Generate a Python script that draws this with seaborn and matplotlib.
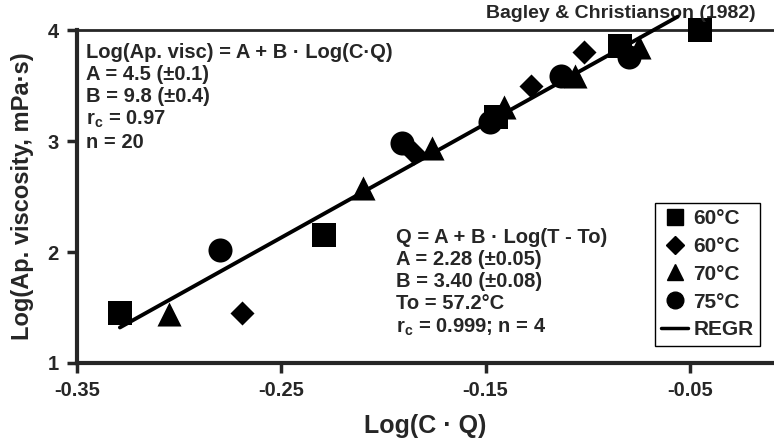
import matplotlib
matplotlib.use("Agg")
import matplotlib.pyplot as plt
import seaborn as sns
import pandas as pd
from matplotlib.lines import Line2D

sns.set_style("ticks")
plt.rcParams['font.family'] = ['Liberation Sans', 'DejaVu Sans']
plt.rcParams['font.weight'] = 'bold'
plt.rcParams['mathtext.fontset'] = 'custom'
plt.rcParams['mathtext.rm'] = 'Liberation Sans:bold'
plt.rcParams['mathtext.it'] = 'Liberation Sans:bold'
plt.rcParams['mathtext.bf'] = 'Liberation Sans:bold'
plt.rcParams['mathtext.default'] = 'rm'

# Data
sq_x = [-0.329, -0.229, -0.145, -0.084, -0.045]
sq_y = [1.45, 2.15, 3.22, 3.86, 4.00]
di_x = [-0.269, -0.185, -0.128, -0.102]
di_y = [1.45, 2.89, 3.50, 3.80]
tr_x = [-0.305, -0.210, -0.176, -0.141, -0.106, -0.075]
tr_y = [1.44, 2.58, 2.94, 3.31, 3.59, 3.85]
ci_x = [-0.280, -0.191, -0.148, -0.113, -0.080]
ci_y = [2.02, 2.98, 3.17, 3.59, 3.76]
reg_x = [-0.329, -0.056]
reg_y = [1.32, 4.12]

series_labels = ["60°C", "60°C", "70°C", "75°C"]
x_ticks = [-0.35, -0.25, -0.15, -0.05]
y_ticks = [1, 2, 3, 4]

fig = plt.figure(figsize=(7.74, 4.48), dpi=100)
ax = fig.add_axes([77/774, 1 - 363/448, 1 - 77/774, (363 - 30)/448])

groups = [
    (sq_x, sq_y, 's', 280),
    (di_x, di_y, 'D', 150),
    (tr_x, tr_y, '^', 300),
    (ci_x, ci_y, 'o', 300),
]
for (gx, gy, m, s), lab in zip(groups, series_labels):
    df = pd.DataFrame({'x': gx, 'y': gy})
    sns.scatterplot(data=df, x='x', y='y', marker=m, s=s, color='black',
                    edgecolor='black', linewidth=0, ax=ax, legend=False,
                    zorder=3, clip_on=False)

reg_df = pd.DataFrame({'x': reg_x, 'y': reg_y})
sns.lineplot(data=reg_df, x='x', y='y', color='black', linewidth=2.8, ax=ax,
             legend=False, zorder=4)
for l in ax.lines:
    l.set_clip_on(False)

ax.set_xlim(-0.35, -0.35 + (774 - 77) / 2043)
ax.set_ylim(1, 4)
ax.set_xticks(x_ticks)
ax.set_xticklabels([f"{v:.2f}" for v in x_ticks])
ax.set_yticks(y_ticks)
ax.set_yticklabels([str(v) for v in y_ticks])
ax.tick_params(axis='both', direction='out', length=7, width=2.5,
               labelsize=14.5, pad=6)
for lab in ax.get_xticklabels() + ax.get_yticklabels():
    lab.set_fontweight('bold')

ax.spines['left'].set_linewidth(3)
ax.spines['bottom'].set_linewidth(3)
ax.spines['top'].set_visible(True)
ax.spines['top'].set_linewidth(2)
ax.spines['right'].set_visible(False)

ax.set_xlabel("Log(C · Q)", fontsize=18, fontweight='bold', labelpad=10)
ax.set_ylabel("Log(Ap. viscosity, mPa·s)", fontsize=17, fontweight='bold', labelpad=10)

txt1 = ("Log(Ap. visc) = A + B · Log(C·Q)\n"
        "A = 4.5 (±0.1)\n"
        "B = 9.8 (±0.4)\n"
        "r$_{c}$ = 0.97\n"
        "n = 20")
ax.text(86/774, 1 - 43/448, txt1, transform=fig.transFigure, fontsize=14.5,
        fontweight='bold', va='top', ha='left', linespacing=1.2)

txt2 = ("Q = A + B · Log(T - To)\n"
        "A = 2.28 (±0.05)\n"
        "B = 3.40 (±0.08)\n"
        "To = 57.2°C\n"
        "r$_{c}$ = 0.999; n = 4")
ax.text(396/774, 1 - 228/448, txt2, transform=fig.transFigure, fontsize=14.5,
        fontweight='bold', va='top', ha='left', linespacing=1.2)

ax.text(756/774, 1 - 13/448, "Bagley & Christianson (1982)",
        transform=fig.transFigure, fontsize=14, fontweight='bold',
        ha='right', va='center')

handles = [
    Line2D([], [], marker='s', color='black', linestyle='none', markersize=12),
    Line2D([], [], marker='D', color='black', linestyle='none', markersize=9),
    Line2D([], [], marker='^', color='black', linestyle='none', markersize=12),
    Line2D([], [], marker='o', color='black', linestyle='none', markersize=12),
    Line2D([], [], color='black', linewidth=2.5),
]
leg = ax.legend(handles, series_labels + ["REGR"], loc='upper left',
                bbox_to_anchor=(655/774, 1 - 203/448),
                bbox_transform=fig.transFigure, frameon=True, fancybox=False,
                edgecolor='black', framealpha=1, prop={'weight': 'bold', 'size': 15},
                handlelength=1.3, handletextpad=0.25, borderpad=0.3,
                labelspacing=0.42, borderaxespad=0)
leg.get_frame().set_linewidth(1)

fig.savefig("out.png", dpi=100)
